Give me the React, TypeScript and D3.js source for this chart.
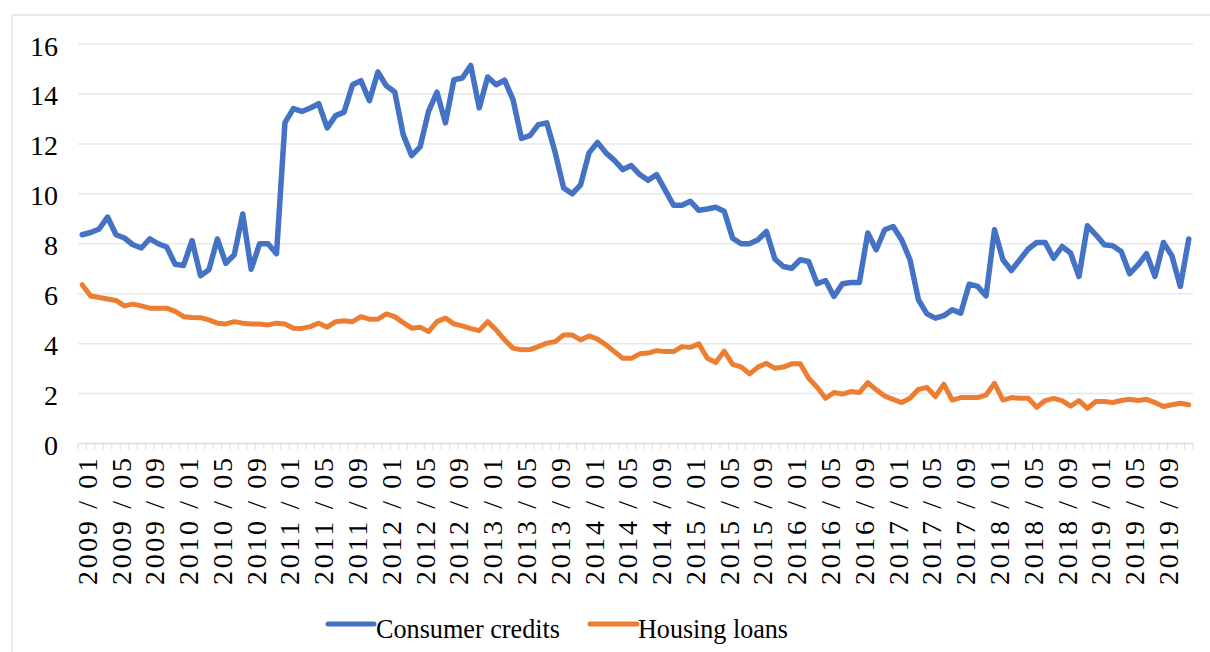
import React from "react";
import * as d3 from "d3";

const years = d3.range(2009, 2020);
const months = years.flatMap((y) => d3.range(1, 13).map((m) => `${y} / ${String(m).padStart(2, "0")}`));

const consumerCredits = [
  8.36, 8.45, 8.59, 9.07, 8.36, 8.23, 7.96, 7.83, 8.2, 8.0, 7.87, 7.18,
  7.13, 8.13, 6.72, 6.96, 8.19, 7.22, 7.56, 9.19, 6.98, 8.0, 8.0, 7.6,
  12.85, 13.41, 13.3, 13.44, 13.61, 12.64, 13.13, 13.27, 14.37, 14.53, 13.73, 14.88,
  14.33, 14.08, 12.37, 11.53, 11.88, 13.3, 14.07, 12.84, 14.57, 14.64, 15.14, 13.44,
  14.68, 14.37, 14.55, 13.77, 12.22, 12.33, 12.77, 12.84, 11.64, 10.23, 10.0, 10.36,
  11.64, 12.06, 11.64, 11.34, 10.97, 11.13, 10.77, 10.54, 10.77, 10.16, 9.54, 9.54,
  9.7, 9.34, 9.39, 9.46, 9.3, 8.22, 8.0, 8.0, 8.16, 8.49, 7.39, 7.09,
  7.02, 7.36, 7.29, 6.4, 6.53, 5.89, 6.4, 6.45, 6.45, 8.43, 7.76, 8.56,
  8.69, 8.16, 7.36, 5.75, 5.19, 5.02, 5.12, 5.36, 5.22, 6.38, 6.29, 5.91,
  8.56, 7.36, 6.93, 7.36, 7.79, 8.05, 8.05, 7.42, 7.89, 7.63, 6.69, 8.72,
  8.36, 7.96, 7.92, 7.69, 6.8, 7.16, 7.6, 6.69, 8.05, 7.52, 6.29, 8.19,
];

const housingLoans = [
  6.36, 5.91, 5.85, 5.79, 5.73, 5.51, 5.58, 5.51, 5.42, 5.42, 5.42, 5.29,
  5.08, 5.05, 5.04, 4.95, 4.82, 4.79, 4.88, 4.82, 4.79, 4.79, 4.75, 4.82,
  4.79, 4.62, 4.61, 4.68, 4.82, 4.66, 4.88, 4.92, 4.88, 5.08, 4.98, 4.98,
  5.19, 5.08, 4.84, 4.62, 4.66, 4.48, 4.88, 5.02, 4.79, 4.71, 4.6, 4.52,
  4.88, 4.55, 4.15, 3.82, 3.75, 3.76, 3.88, 4.02, 4.08, 4.35, 4.35, 4.15,
  4.31, 4.18, 3.95, 3.68, 3.41, 3.41, 3.59, 3.62, 3.72, 3.68, 3.68, 3.88,
  3.85, 3.99, 3.41, 3.24, 3.7, 3.17, 3.07, 2.79, 3.06, 3.21, 3.01, 3.06,
  3.19, 3.19, 2.61, 2.25, 1.81, 2.04, 1.98, 2.08, 2.04, 2.44, 2.15, 1.9,
  1.77, 1.64, 1.81, 2.17, 2.25, 1.88, 2.38, 1.74, 1.84, 1.84, 1.84, 1.94,
  2.41, 1.74, 1.84, 1.81, 1.81, 1.45, 1.72, 1.81, 1.72, 1.5, 1.72, 1.41,
  1.68, 1.68, 1.64, 1.72, 1.77, 1.72, 1.77, 1.64, 1.48, 1.55, 1.61, 1.55,
];

const yTicks = [0, 2, 4, 6, 8, 10, 12, 14, 16];
const seriesNames = ["Consumer credits", "Housing loans"];
const seriesColors = ["#4472C4", "#ED7D31"];

export default function App() {
  const W = 1210;
  const H = 652;
  const left = 78;
  const right = 1193;
  const top = 44;
  const bottom = 443.5;

  const band = d3.scaleBand<number>().domain(d3.range(months.length)).range([left, right]).padding(0);
  const xc = (i: number) => (band(i) as number) + band.bandwidth() / 2;
  const y = d3.scaleLinear().domain([0, 16]).range([bottom, top]);

  const line = d3
    .line<number>()
    .x((_, i) => xc(i))
    .y((d) => y(d));

  const labelIdx = d3.range(0, months.length, 4);
  const fontFam = "Liberation Serif, DejaVu Serif, serif";

  return (
    <svg width={W} height={H} style={{ position: "absolute", left: 0, top: 0, background: "#fff" }}>
      {/* frame */}
      <line x1={12} x2={W} y1={15} y2={15} stroke="#dde2e9" strokeWidth={1.5} />
      <line x1={12} x2={12} y1={15} y2={H} stroke="#dde2e9" strokeWidth={1.5} />

      {/* gridlines */}
      {yTicks.filter((t) => t > 0).map((t) => (
        <line key={t} x1={left} x2={right} y1={y(t)} y2={y(t)} stroke="#e4e7ec" strokeWidth={1.5} />
      ))}
      {/* axis */}
      <line x1={left} x2={right} y1={bottom} y2={bottom} stroke="#dadee5" strokeWidth={1.5} />
      {d3.range(months.length + 1).map((i) => {
        const x = left + i * band.step();
        return <line key={i} x1={x} x2={x} y1={bottom} y2={bottom + 6} stroke="#dadee5" strokeWidth={1} />;
      })}

      {/* y labels */}
      {yTicks.map((t) => (
        <text key={t} x={58} y={y(t) + 2} textAnchor="end" dominantBaseline="central" fontFamily={fontFam} fontSize={28} fill="#000">
          {t}
        </text>
      ))}

      {/* x labels */}
      {labelIdx.map((i) => {
        const x = xc(i) + 5;
        const yy = 458;
        return (
          <text
            key={i}
            transform={`translate(${x},${yy}) rotate(-90)`}
            textAnchor="end"
            dominantBaseline="central"
            fontFamily={fontFam}
            fontSize={28}
            textLength={127}
            lengthAdjust="spacing"
            xmlSpace="preserve"
            fill="#000"
          >
            {months[i]}
          </text>
        );
      })}

      {/* series */}
      <path d={line(housingLoans) || ""} fill="none" stroke={seriesColors[1]} strokeWidth={5} strokeLinejoin="round" strokeLinecap="round" />
      <path d={line(consumerCredits) || ""} fill="none" stroke={seriesColors[0]} strokeWidth={5.5} strokeLinejoin="round" strokeLinecap="round" />

      {/* legend */}
      <line x1={328} x2={374} y1={624} y2={624} stroke={seriesColors[0]} strokeWidth={5} strokeLinecap="round" />
      <text x={376} y={638} fontFamily={fontFam} fontSize={28} textLength={184} lengthAdjust="spacingAndGlyphs" fill="#000">
        {seriesNames[0]}
      </text>
      <line x1={590} x2={637} y1={624} y2={624} stroke={seriesColors[1]} strokeWidth={5} strokeLinecap="round" />
      <text x={638} y={638} fontFamily={fontFam} fontSize={28} textLength={150} lengthAdjust="spacingAndGlyphs" fill="#000">
        {seriesNames[1]}
      </text>
    </svg>
  );
}
